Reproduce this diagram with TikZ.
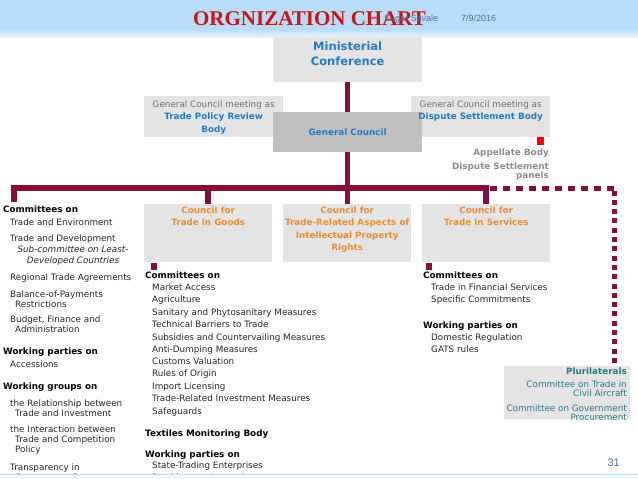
\documentclass[tikz,border=0pt]{standalone}
\usepackage{fontspec}
\setmainfont{DejaVu Sans}
\newfontfamily\titlefont{Liberation Serif}
\newfontfamily\slidefont{Liberation Sans}
\usetikzlibrary{positioning}

\definecolor{wtomaroon}{RGB}{135,14,58}
\definecolor{boxgrey}{RGB}{228,228,228}
\definecolor{gcgrey}{RGB}{192,192,192}
\definecolor{wtoblue}{RGB}{38,122,196}
\definecolor{wtoorange}{RGB}{234,142,52}
\definecolor{notegrey}{RGB}{112,112,112}
\definecolor{bodygrey}{RGB}{140,140,140}
\definecolor{pluriteal}{RGB}{42,122,138}
\definecolor{headblue}{RGB}{184,221,248}
\definecolor{titlered}{RGB}{208,18,18}
\definecolor{slideblue}{RGB}{82,108,158}

\begin{document}
\begin{tikzpicture}[x=1pt, y=-1pt,
    unit/.style = {fill=boxgrey, inner sep=0, anchor=north west},
    txt/.style = {inner sep=0, anchor=base west, align=left, text=black!85, font=\fontsize{8.8}{10}\selectfont},
    heading/.style = {txt, text=black, font=\fontsize{8.8}{10}\selectfont\bfseries},
    bluehead/.style = {inner sep=0, anchor=base, align=center, text=wtoblue, font=\fontsize{8.8}{13}\selectfont\bfseries},
    orangehead/.style = {inner sep=0, anchor=base, align=center, text=wtoorange, font=\fontsize{8.8}{12.4}\selectfont\bfseries},
    link/.style = {draw=wtomaroon, line width=5.5pt},
    plurilink/.style = {draw=wtomaroon, line width=5pt}]
  \useasboundingbox (0,0) rectangle (638,479);
  % slide header
  \fill[headblue] (0,0) rectangle (638,29);
  \shade[top color=headblue, bottom color=headblue!35] (0,29) rectangle (638,37);
  \node[inner sep=0, anchor=base, text=titlered, font=\titlefont\fontsize{21}{21}\selectfont\bfseries] (title) at (309.5,25) {ORGNIZATION CHART};
  \node[inner sep=0, anchor=base west, text=slideblue, font=\slidefont\fontsize{9}{9}\selectfont] (author) at (384,21.5) {Sagar Savale};
  \node[inner sep=0, anchor=base west, text=slideblue, font=\slidefont\fontsize{9}{9}\selectfont] (date) at (461,21.5) {7/9/2016};

  % boxes
  \node[unit, minimum width=149pt, minimum height=45pt] (mc) at (273,37) {};
  \node[unit, minimum width=139pt, minimum height=41pt] (tprb) at (144,96) {};
  \node[unit, minimum width=139pt, minimum height=41pt] (dsb) at (411,96) {};
  \node[unit, minimum width=128pt, minimum height=58pt] (goods) at (144,204) {};
  \node[unit, minimum width=128pt, minimum height=58pt] (trips) at (283,204) {};
  \node[unit, minimum width=128pt, minimum height=58pt] (services) at (422,204) {};
  \node[unit, minimum width=126pt, minimum height=53pt] (pluri) at (504,366) {};
  \coordinate (bus) at (347,188);
  \coordinate (lefttop) at (14,202);
  \coordinate (pluribend) at (614.5,188);

  % connectors
  \draw[link] (mc.south) -- (mc.south |- trips.north);
  \draw[link] (lefttop) -- (lefttop |- bus) -- (services.north |- bus) -- (services.north);
  \draw[link] (goods.north |- bus) -- (goods.north);
  \draw[plurilink, dash pattern=on 6.5pt off 6.5pt] ([xshift=4pt]services.north |- bus) -- (pluribend);
  \draw[plurilink, dash pattern=on 5pt off 4.3pt] ([yshift=-2.5pt]pluribend) -- ([yshift=2pt]pluribend |- pluri.north);

  \node[unit, fill=gcgrey, minimum width=149pt, minimum height=40pt] (gc) at (273,112) {};

  % box texts (base = last line)
  \node[bluehead, font=\fontsize{11.5}{15}\selectfont\bfseries] (mctext) at (mc.center |- 0,65) {Ministerial\\Conference};
  \node[inner sep=0, anchor=base, text=notegrey, font=\fontsize{8.8}{10}\selectfont] (tprbnote) at (tprb.center |- 0,107) {General Council meeting as};
  \node[bluehead] (tprbtext) at (tprb.center |- 0,132.5) {Trade Policy Review\\Body};
  \node[inner sep=0, anchor=base, text=notegrey, font=\fontsize{8.8}{10}\selectfont] (dsbnote) at (dsb.center |- 0,107) {General Council meeting as};
  \node[bluehead] (dsbtext) at (dsb.center |- 0,119.5) {Dispute Settlement Body};
  \node[bluehead] (gctext) at (gc.center |- 0,135) {General Council};
  \node[orangehead] (goodstext) at (goods.center |- 0,225.9) {Council for\\Trade in Goods};
  \node[orangehead] (tripstext) at (trips.center |- 0,250.7) {Council for\\Trade-Related Aspects of\\Intellectual Property\\Rights};
  \node[orangehead] (servicestext) at (services.center |- 0,225.9) {Council for\\Trade in Services};

  % dispute settlement
  \fill[red] (537,137) rectangle (544,145);
  \node[inner sep=0, anchor=base east, align=right, text=bodygrey, font=\fontsize{8.8}{9.5}\selectfont\bfseries] (appellate) at (549,155) {Appellate Body};
  \node[inner sep=0, anchor=base east, align=right, text=bodygrey, font=\fontsize{8.8}{9.5}\selectfont\bfseries] (panels) at (549,178.5) {Dispute Settlement\\panels};

  % general council column
  \node[heading] (gccomm) at (3,212) {Committees on};
  \node[txt] (gc1) at (10,225) {Trade and Environment};
  \node[txt] (gc2) at (10,241) {Trade and Development};
  \node[txt, anchor=base, align=center, font=\fontsize{8.8}{11}\selectfont\itshape] (gc3) at (73,263) {Sub-committee on Least-\\Developed Countries};
  \node[txt] (gc4) at (10,280) {Regional Trade Agreements};
  \node[txt] (gc5) at (10,307) {Balance-of-Payments\\\hspace*{5pt}Restrictions};
  \node[txt] (gc6) at (10,332) {Budget, Finance and\\\hspace*{5pt}Administration};
  \node[heading] (gcwp) at (3,354) {Working parties on};
  \node[txt] (gc7) at (10,367) {Accessions};
  \node[heading] (gcwg) at (3,389) {Working groups on};
  \node[txt] (gc8) at (10,416) {the Relationship between\\\hspace*{5pt}Trade and Investment};
  \node[txt] (gc9) at (10,452) {the Interaction between\\\hspace*{5pt}Trade and Competition\\\hspace*{5pt}Policy};
  \node[txt] (gc10) at (10,480) {Transparency in\\\hspace*{5pt}Government Procurement};

  % goods column
  \fill[wtomaroon] (151,263) rectangle (157,270);
  \node[heading] (gdcomm) at (145,278) {Committees on};
  \node[txt] (gd1) at (152,290) {Market Access};
  \node[txt] (gd2) at (152,302) {Agriculture};
  \node[txt] (gd3) at (152,315) {Sanitary and Phytosanitary Measures};
  \node[txt] (gd4) at (152,327) {Technical Barriers to Trade};
  \node[txt] (gd5) at (152,340) {Subsidies and Countervailing Measures};
  \node[txt] (gd6) at (152,352) {Anti-Dumping Measures};
  \node[txt] (gd7) at (152,364) {Customs Valuation};
  \node[txt] (gd8) at (152,376) {Rules of Origin};
  \node[txt] (gd9) at (152,389) {Import Licensing};
  \node[txt] (gd10) at (152,401) {Trade-Related Investment Measures};
  \node[txt] (gd11) at (152,414) {Safeguards};
  \node[heading] (gdtmb) at (145,436) {Textiles Monitoring Body};
  \node[heading] (gdwp) at (145,457) {Working parties on};
  \node[txt] (gd12) at (152,468) {State-Trading Enterprises};
  \node[txt] (gd13) at (152,480) {Preshipment Inspection};

  % services column
  \fill[wtomaroon] (426,263) rectangle (432,270);
  \node[heading] (svcomm) at (423,278) {Committees on};
  \node[txt] (sv1) at (431,290) {Trade in Financial Services};
  \node[txt] (sv2) at (431,302) {Specific Commitments};
  \node[heading] (svwp) at (423,328) {Working parties on};
  \node[txt] (sv3) at (431,340) {Domestic Regulation};
  \node[txt] (sv4) at (431,352) {GATS rules};

  % plurilaterals
  \node[inner sep=0, anchor=base east, text=pluriteal, font=\fontsize{8.8}{9.5}\selectfont\bfseries] (plurihead) at (627,374) {Plurilaterals};
  \node[inner sep=0, anchor=base east, align=right, text=pluriteal, font=\fontsize{8.8}{9.5}\selectfont] (pluri1) at (627,396.5) {Committee on Trade in\\Civil Aircraft};
  \node[inner sep=0, anchor=base east, align=right, text=pluriteal, font=\fontsize{8.8}{9}\selectfont] (pluri2) at (627,420) {Committee on Government\\Procurement};

  % slide footer
  \node[inner sep=0, anchor=base east, text=slideblue, font=\slidefont\fontsize{11}{11}\selectfont] (page) at (620,466) {31};
  \fill[headblue!20] (0,474) rectangle (638,479);
  \draw[headblue, line width=1pt] (0,474.5) -- (638,474.5);
\end{tikzpicture}
\end{document}
